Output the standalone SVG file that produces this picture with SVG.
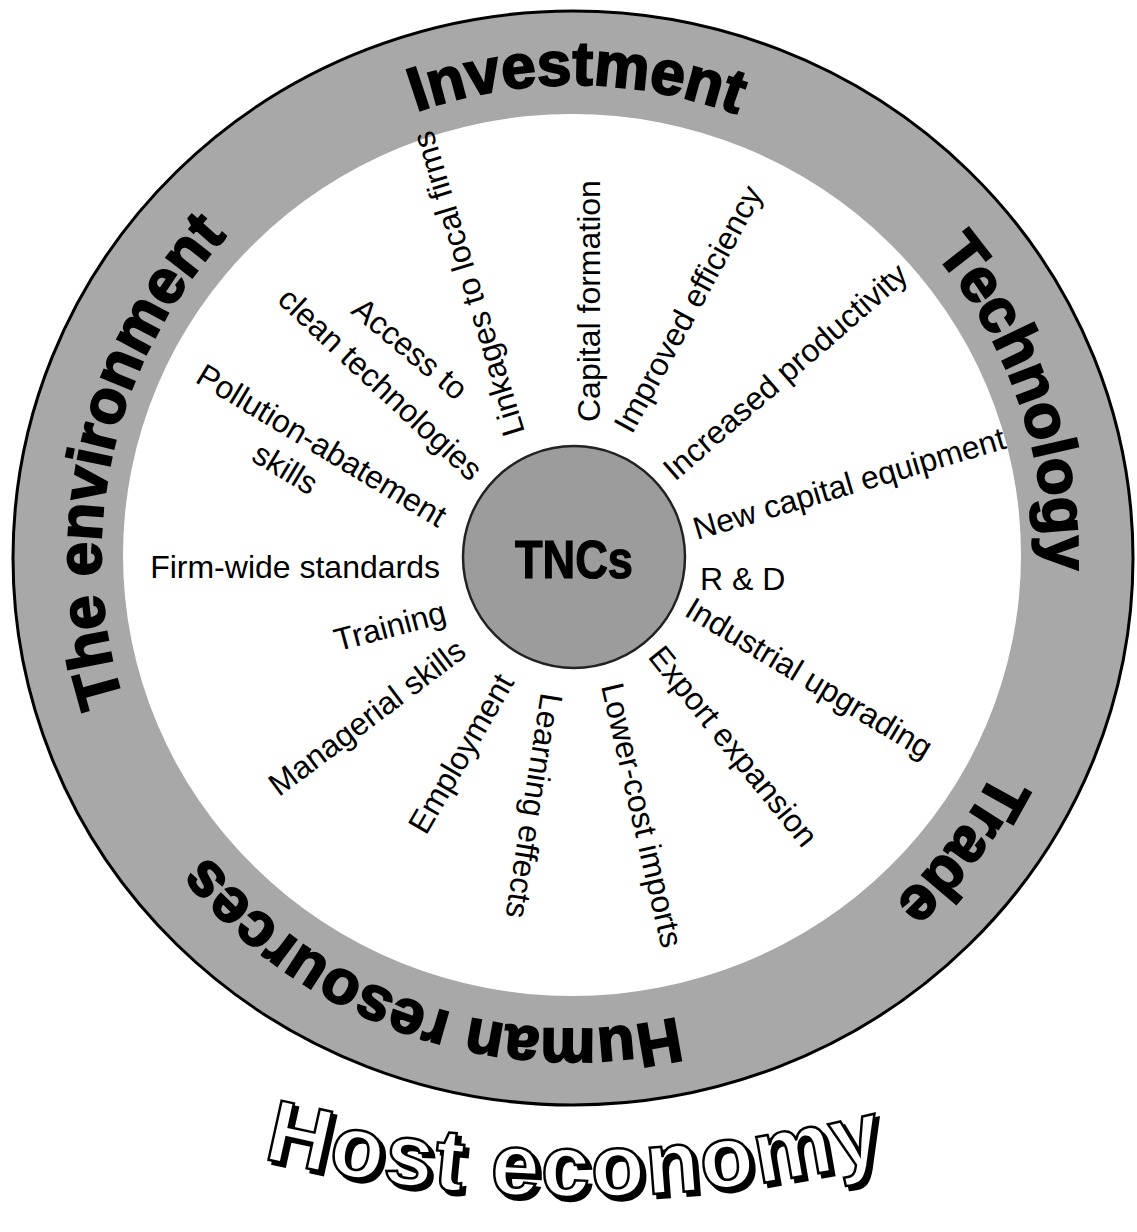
<svg xmlns="http://www.w3.org/2000/svg" width="1137" height="1232" viewBox="0 0 1137 1232">
<defs>
<style>
.ringtxt{font-family:"Liberation Sans",Arial,sans-serif;font-weight:bold;font-size:62px;fill:#000;stroke:#000;stroke-width:2px}
.lbl{font-family:"Liberation Sans",Arial,sans-serif;font-size:32px;fill:#000}
.host{font-family:"Liberation Sans",Arial,sans-serif;font-weight:bold;font-size:88px;letter-spacing:2px}
</style>
<filter id="shadow" x="-5%" y="-30%" width="115%" height="160%">
<feOffset in="SourceAlpha" dx="4" dy="4" result="off"/>
<feMerge><feMergeNode in="off"/><feMergeNode in="SourceGraphic"/></feMerge>
</filter>
<path id="ringPath" d="M 809 965.8 A 472 472 0 1 1 337 148.2 A 472 472 0 1 1 809 965.8"/>
<path id="hostPath" d="M 262 1158 A 1300 1300 0 0 0 888 1158"/>
</defs>
<rect x="0" y="0" width="1137" height="1232" fill="#fff"/>
<g id="ring">
<ellipse cx="573" cy="558" rx="560" ry="547" fill="#a8a8a8" stroke="#000" stroke-width="3"/>
<ellipse cx="572" cy="555" rx="449" ry="441" fill="#fff"/>
<text class="ringtxt" text-anchor="middle"><textPath href="#ringPath" startOffset="13.61%">Human resources</textPath></text>
<text class="ringtxt" text-anchor="middle"><textPath href="#ringPath" startOffset="36.81%">The environment</textPath></text>
<text class="ringtxt" text-anchor="middle"><textPath href="#ringPath" startOffset="58.47%">Investment</textPath></text>
<text class="ringtxt" text-anchor="middle"><textPath href="#ringPath" startOffset="78%">Technology</textPath></text>
<text class="ringtxt" text-anchor="middle"><textPath href="#ringPath" startOffset="93.61%">Trade</textPath></text>
</g>
<g id="tncs">
<circle cx="574" cy="557" r="111" fill="#9c9c9c" stroke="#222" stroke-width="2.5"/>
<text x="574" y="578" text-anchor="middle" font-family="Liberation Sans,Arial,sans-serif" font-weight="bold" font-size="53" textLength="118" lengthAdjust="spacingAndGlyphs" fill="#000" stroke="#000" stroke-width="1.2">TNCs</text>
</g>
<g id="labels">
<g id="linkages"><text class="lbl" transform="translate(525,432) rotate(-107)">Linkages to local firms</text></g>
<g id="capital-formation"><text class="lbl" transform="translate(600,422) rotate(-90)">Capital formation</text></g>
<g id="improved-efficiency"><text class="lbl" transform="translate(632,435) rotate(-61.5)">Improved efficiency</text></g>
<g id="increased-productivity"><text class="lbl" transform="translate(675,482) rotate(-41)">Increased productivity</text></g>
<g id="new-capital-equipment"><text class="lbl" transform="translate(697,540) rotate(-16.5)">New capital equipment</text></g>
<g id="rd"><text class="lbl" x="700" y="590">R &amp; D</text></g>
<g id="industrial-upgrading"><text class="lbl" transform="translate(683,615) rotate(31)">Industrial upgrading</text></g>
<g id="export-expansion"><text class="lbl" transform="translate(647,657) rotate(51)">Export expansion</text></g>
<g id="lower-cost-imports"><text class="lbl" transform="translate(601,686) rotate(77)">Lower-cost imports</text></g>
<g id="learning-effects"><text class="lbl" transform="translate(541,692) rotate(99)">Learning effects</text></g>
<g id="employment"><text class="lbl" text-anchor="end" transform="translate(515,682) rotate(-60)">Employment</text></g>
<g id="managerial-skills"><text class="lbl" text-anchor="end" transform="translate(468,655) rotate(-37)">Managerial skills</text></g>
<g id="training"><text class="lbl" text-anchor="end" transform="translate(448,622) rotate(-15)">Training</text></g>
<g id="firm-wide-standards"><text class="lbl" text-anchor="end" x="440" y="578">Firm-wide standards</text></g>
<g id="pollution-abatement"><text class="lbl" text-anchor="end" transform="translate(438,528) rotate(31)">Pollution-abatement</text>
<text class="lbl" transform="translate(250,460) rotate(31)">skills</text></g>
<g id="clean-technologies"><text class="lbl" text-anchor="middle" transform="translate(403,357) rotate(40)">Access to</text>
<text class="lbl" text-anchor="middle" transform="translate(373,392) rotate(43)">clean technologies</text></g>
</g>
<g id="host-economy">
<text class="host" text-anchor="middle" fill="#fff" stroke="#000" stroke-width="2.5" filter="url(#shadow)"><textPath href="#hostPath" startOffset="50%">Host economy</textPath></text>
</g>
</svg>
